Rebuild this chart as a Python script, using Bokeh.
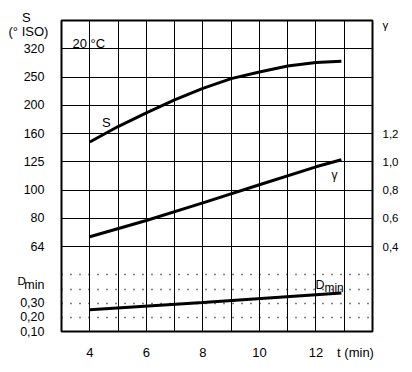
from bokeh.plotting import figure
from bokeh.models import Range1d, LogScale, LinearAxis, FixedTicker, Label, Grid
from bokeh.embed import file_html
from bokeh.resources import INLINE

# ---- data ----
t_S = [4, 5, 6, 7, 8, 9, 10, 11, 12, 12.9]
S_vals = [150, 170, 190, 211, 232, 251, 265, 278, 286, 289]

t_gamma = [4, 6, 8, 10, 12, 12.9]
gamma_vals = [0.47, 0.585, 0.71, 0.838, 0.965, 1.015]

t_D = [4, 8, 12.9]
D_vals = [0.254, 0.305, 0.372]

x_ticks = [4, 6, 8, 10, 12]
x_tick_labels = ["4", "6", "8", "10", "12"]
S_tick_labels = ["64", "80", "100", "125", "160", "200", "250", "320"]
D_tick_labels = ["0,10", "0,20", "0,30"]
gamma_ticks = [0.4, 0.6, 0.8, 1.0, 1.2]
gamma_tick_labels = ["0,4", "0,6", "0,8", "1,0", "1,2"]

FONT = "Liberation Sans"

# ---- layout: square grid, 11 x 11 cells; y in grid units ----
p = figure(width=404, height=364, output_backend="svg", toolbar_location=None,
           x_range=Range1d(3, 14), y_range=Range1d(0, 11),
           min_border_left=61, min_border_right=32, min_border_top=20,
           min_border_bottom=33, background_fill_color="white",
           border_fill_color="white")
p.outline_line_color = "black"
p.outline_line_width = 2

# extra ranges: S (log), gamma (linear), Dmin (linear)
r = (320 / 64) ** (1 / 7)
p.extra_y_ranges = {
    "S": Range1d(64 / r ** 3, 320 * r),
    "g": Range1d(0.4 - 0.2 * 3, 0.4 + 0.2 * 8),
    "D": Range1d(0.1, 0.1 + 0.2 * 11),
}
p.extra_y_scales = {"S": LogScale()}

# grids
p.xgrid.ticker = FixedTicker(ticks=list(range(4, 14)))
p.xgrid.grid_line_color = "black"
p.xgrid.grid_line_width = 1
p.ygrid.ticker = FixedTicker(ticks=list(range(3, 11)))
p.ygrid.grid_line_color = "black"
p.ygrid.grid_line_width = 1
dotted = Grid(dimension=1, ticker=FixedTicker(ticks=[0.5, 1, 1.5, 2]),
              grid_line_color="black", grid_line_width=1.4, grid_line_dash="1 8")
p.add_layout(dotted)

def style_axis(a, size, standoff):
    a.axis_line_color = None
    a.major_tick_line_color = None
    a.minor_tick_line_color = None
    a.major_tick_out = 0
    a.major_label_standoff = standoff
    a.major_label_text_font = FONT
    a.major_label_text_font_size = size
    a.major_label_text_color = "black"

# left axis: Dmin and S scale labels, plus the "min" subscript of the D_min title
left_pos = [0.0, 0.5, 1.0, 1.66] + [float(k) for k in range(3, 11)]
left_labels = D_tick_labels + ["min"] + S_tick_labels
ax = p.yaxis[0]
ax.ticker = FixedTicker(ticks=left_pos)
ax.major_label_overrides = dict(zip(left_pos, left_labels))
style_axis(ax, "12.5px", 17)

# bottom axis: time ticks plus the axis title "t (min)" in the same row
bx_pos = [float(v) for v in x_ticks] + [13.4]
xa = p.xaxis[0]
xa.ticker = FixedTicker(ticks=bx_pos)
xa.major_label_overrides = dict(zip(bx_pos, x_tick_labels + ["t (min)"]))
style_axis(xa, "13px", 13)

# right axis: gamma ticks plus the axis title "γ"
g_pos = gamma_ticks + [1.965]
ra = LinearAxis(y_range_name="g", ticker=FixedTicker(ticks=g_pos),
                major_label_overrides=dict(zip(g_pos, gamma_tick_labels + ["γ"])))
style_axis(ra, "11.5px", 10)
p.add_layout(ra, "right")

# curves
p.line(t_S, S_vals, y_range_name="S", line_color="black", line_width=3)
p.line(t_gamma, gamma_vals, y_range_name="g", line_color="black", line_width=3)
p.line(t_D, D_vals, y_range_name="D", line_color="black", line_width=3)

# text annotations
def lab(x, y, text, size, align="left", baseline="alphabetic", xo=0, yo=0, place="center"):
    p.add_layout(Label(x=x, y=y, text=text, text_font=FONT, text_font_size=size,
                       text_align=align, text_baseline=baseline, text_color="black",
                       x_offset=xo, y_offset=yo), place)

# outside the frame: side panels are not clipped (small labels fit the borders)
lab(1.76, 11.1, "S", "13px", align="center", baseline="middle", place="left")
lab(1.444, 1.80, "D", "11.5px", place="left")
lab(1.83, 10.61, "(° ISO)", "13px", align="center", baseline="middle", place="above")

# inside the frame
lab(3.39, 10.19, "20 °C", "13px")
lab(4.59, 7.39, "S", "13px", align="center", baseline="middle")
lab(12.66, 5.52, "γ", "12px", align="center", baseline="middle")
lab(11.98, 1.63, "D", "12.5px")
lab(11.98, 1.63, "min", "12px", xo=9, yo=-3)

open("out.html", "w").write(file_html(p, INLINE))
